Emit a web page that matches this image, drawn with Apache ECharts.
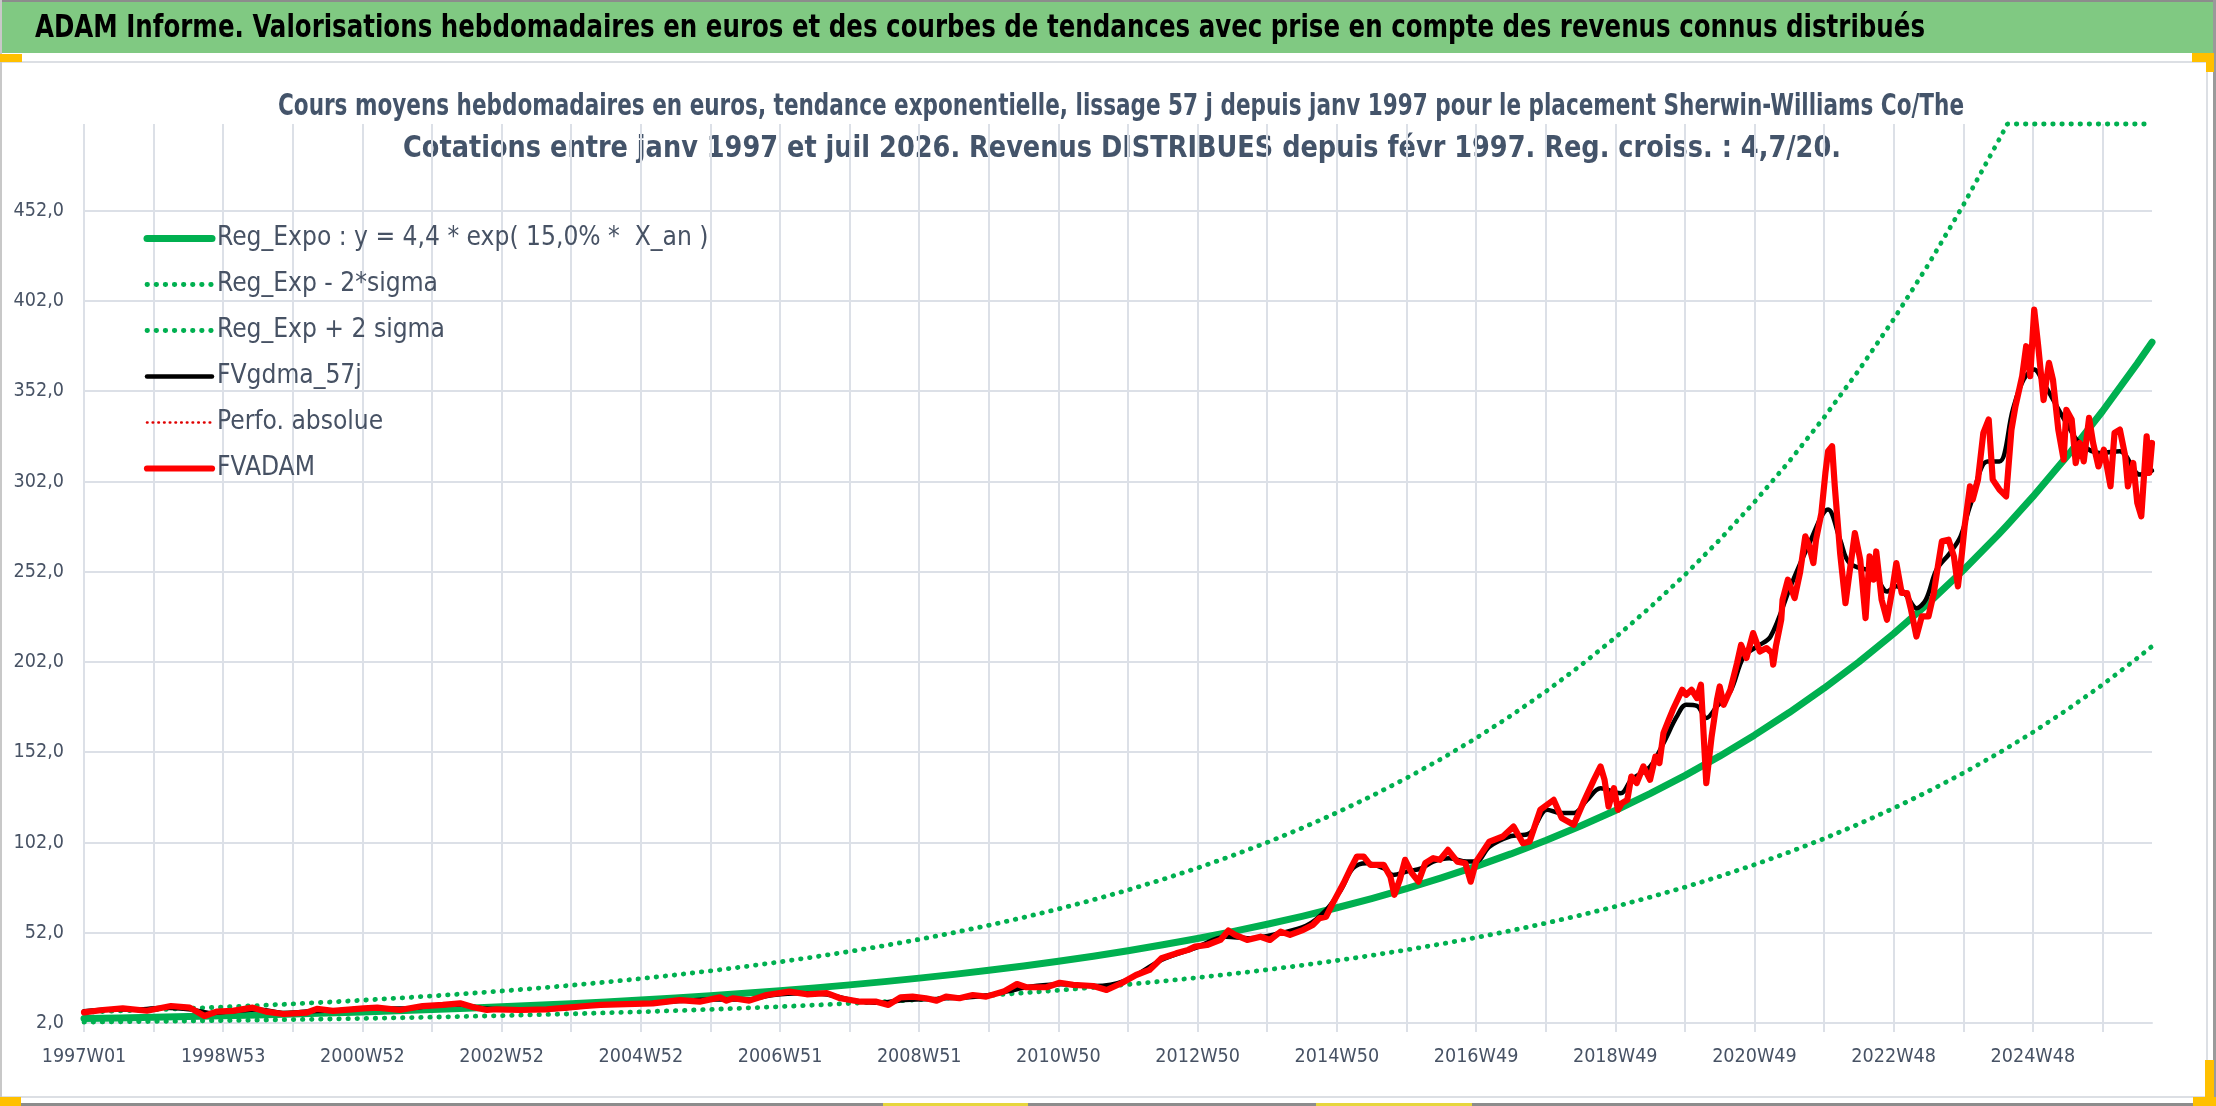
<!DOCTYPE html>
<html>
<head>
<meta charset="utf-8">
<script src="https://cdn.jsdelivr.net/npm/echarts@6/dist/echarts.min.js"></script>
<style>
html,body{margin:0;padding:0;background:#ffffff;}
#chart{width:2216px;height:1106px;}
</style>
</head>
<body>
<div id="chart"></div>
<script>
// ---------------- DATA ----------------
const mainTitle = 'ADAM Informe. Valorisations hebdomadaires en euros et des courbes de tendances avec prise en compte des revenus connus distribués';
const subTitle1 = 'Cours moyens hebdomadaires en euros, tendance exponentielle, lissage 57 j depuis janv 1997 pour le placement Sherwin-Williams Co/The';
const subTitle2 = 'Cotations entre janv 1997 et juil 2026. Revenus DISTRIBUES depuis févr 1997. Reg. croiss. : 4,7/20.';

const seriesNames = ['Reg_Expo : y = 4,4 * exp( 15,0% *  X_an )', 'Reg_Exp - 2*sigma', 'Reg_Exp + 2 sigma', 'FVgdma_57j', 'Perfo. absolue', 'FVADAM'];

// x tick labels (one every 104 weeks, week index 0 = 1997W01)
const tickLabels = ['1997W01','1998W53','2000W52','2002W52','2004W52','2006W51','2008W51','2010W50','2012W50','2014W50','2016W49','2018W49','2020W49','2022W48','2024W48'];
const lastWeek = 1545;

// trend curves (week index -> value)
const trendWeeks = [0,26,52,78,104,130,156,182,208,234,260,286,312,338,364,390,416,442,468,494,520,546,572,598,624,650,676,702,728,754,780,806,832,858,884,910,936,962,988,1014,1040,1066,1092,1118,1144,1170,1196,1222,1248,1274,1300,1326,1352,1378,1404,1430,1437,1456,1482,1508,1534,1545];
const regExpo = [4.47,4.81,5.19,5.59,6.02,6.49,6.99,7.54,8.12,8.75,9.43,10.16,10.95,11.8,12.72,13.7,14.77,15.91,17.15,18.48,19.91,21.46,23.12,24.92,26.85,28.94,31.18,33.6,36.21,39.02,42.05,45.31,48.83,52.61,56.7,61.1,65.84,70.95,76.46,82.39,88.78,95.67,103.1,111.1,119.72,129.01,139.02,149.81,161.44,173.97,187.47,202.02,217.7,234.59,252.8,272.41,277.95,293.55,316.34,340.89,367.34,379.14];
const regLow = [2.48,2.67,2.88,3.1,3.35,3.61,3.89,4.19,4.51,4.86,5.24,5.65,6.08,6.56,7.06,7.61,8.2,8.84,9.53,10.27,11.06,11.92,12.85,13.84,14.92,16.08,17.32,18.67,20.12,21.68,23.36,25.17,27.13,29.23,31.5,33.94,36.58,39.42,42.48,45.77,49.32,53.15,57.28,61.72,66.51,71.67,77.23,83.23,89.69,96.65,104.15,112.23,120.94,130.33,140.44,151.34,154.42,163.09,175.74,189.38,204.08,210.63];
const regHigh = [8.04,8.66,9.33,10.06,10.84,11.68,12.59,13.56,14.62,15.75,16.97,18.29,19.71,21.24,22.89,24.67,26.58,28.64,30.86,33.26,35.84,38.62,41.62,44.85,48.33,52.08,56.12,60.48,65.17,70.23,75.68,81.56,87.89,94.71,102.05,109.98,118.51,127.71,137.62,148.3,159.81,172.21,185.57,199.98,215.5,232.22,250.24,269.66,290.59,313.14,337.44,363.63,391.85,422.26,455.03,490.34,500,500,500,500,500,500];

// FVADAM weekly valuation (read points)
const fvadamWeeks = [0,14,29,47,65,79,90,99,111,126,136,149,166,174,186,209,219,236,253,268,281,291,301,308,326,346,361,375,386,405,425,445,460,475,480,485,497,510,527,540,555,565,580,592,601,610,619,629,637,644,654,664,674,687,697,704,719,729,739,754,764,775,786,796,805,816,825,830,839,849,855,860,869,879,886,894,901,911,918,923,928,933,941,947,951,956,961,971,976,979,983,987,992,997,1002,1008,1013,1019,1026,1032,1036,1040,1050,1060,1068,1075,1080,1088,1098,1104,1113,1120,1128,1133,1136,1139,1143,1146,1149,1153,1156,1160,1165,1170,1174,1177,1180,1184,1187,1194,1197,1201,1205,1208,1212,1216,1220,1222,1225,1230,1235,1238,1242,1247,1252,1257,1261,1262,1264,1268,1269,1273,1278,1282,1286,1289,1292,1294,1298,1301,1303,1306,1308,1312,1316,1319,1323,1327,1331,1334,1337,1339,1343,1347,1351,1354,1358,1362,1365,1369,1373,1378,1382,1385,1388,1393,1397,1400,1403,1405,1409,1411,1415,1419,1423,1426,1431,1436,1440,1443,1448,1451,1454,1457,1460,1464,1468,1471,1475,1479,1481,1485,1488,1491,1494,1498,1501,1505,1509,1514,1517,1521,1525,1527,1531,1534,1537,1541,1543,1545];
const fvadamValues = [7.9,9.2,10.1,8.8,11.4,10.5,5.9,8.3,8.7,10.5,8.3,7.0,7.7,9.8,8.7,10.1,10.5,9.2,11.4,12.0,12.9,10.7,9.2,9.6,9.2,9.6,10.5,11.4,12.0,12.5,12.9,14.7,13.8,16.2,14.4,15.7,14.4,17.5,19.4,17.9,18.5,15.7,13.8,13.8,12.0,16.2,16.6,15.7,14.4,16.6,15.7,17.5,16.6,19.4,23.6,21.8,21.8,24.3,23.1,22.5,20.3,24.0,28.6,31.4,37.9,40.6,42.5,44.3,45.2,48.0,53.2,50.8,48.0,49.8,48.0,52.6,50.8,53.6,56.3,60.0,60.9,68.4,79.4,88.6,94.2,94.2,89.6,89.6,83.1,73.0,81.3,92.4,85.0,80.3,90.5,93.3,92.4,97.9,91.4,90.5,80.3,91.4,102.5,105.3,110.8,101.6,102.5,120.1,125.6,115.5,111.8,123.8,136.7,144.1,136.7,121.9,132.1,120.1,123.8,125.6,138.5,134.9,144.1,136.7,149.6,146.0,162.6,170.0,175.5,186.6,183.8,186.6,182.0,189.4,134.9,160.7,181.0,188.4,178.3,186.6,201.4,211.5,204.2,218.0,207.8,209.7,206.9,200.5,210.6,225.4,236.5,247.6,237.4,251.3,271.6,266.0,256.8,269.7,284.5,306.7,318.7,321.5,299.3,262.3,234.6,251.3,273.4,258.7,226.3,260.5,247.6,263.2,236.5,225.4,242.0,256.8,240.2,240.2,230.9,216.1,227.2,227.2,240.2,254.9,268.8,269.7,260.5,243.9,262.3,277.1,299.3,291.9,303.0,328.9,336.3,303.0,297.5,293.7,330.7,343.6,360.3,376.9,360.3,397.2,376.9,347.1,367.7,358.4,330.7,314.1,341.7,336.3,312.2,323.3,313.1,337.2,323.3,310.3,319.6,299.3,328.9,330.7,316.0,299.3,312.2,290.1,282.7,327.0,306.7,323.3];

// FVgdma_57j smoothed valuation (read points)
const smaWeeks = [0,20,40,60,80,95,110,130,150,170,190,210,240,260,280,300,330,360,385,420,445,470,495,515,535,555,575,595,610,640,670,690,705,730,755,778,805,830,853,871,893,913,928,939,948,958,971,978,989,999,1008,1020,1033,1040,1050,1065,1080,1093,1103,1113,1123,1133,1148,1156,1170,1180,1190,1197,1205,1212,1220,1230,1240,1250,1260,1275,1288,1303,1312,1319,1337,1347,1354,1362,1369,1376,1384,1394,1402,1409,1422,1431,1441,1449,1457,1464,1471,1481,1491,1506,1521,1536,1545];
const smaValues = [8.5,9.5,9.5,10.5,9.5,7.5,8.5,9.5,7.5,8.5,9.0,10.0,10.0,11.5,12.2,10.0,9.4,10.2,12.0,12.8,14.2,15.0,15.0,17.5,18.5,17.8,14.5,13.2,14.5,15.5,16.8,19.5,22.0,23.5,22.5,25.5,36.9,43.5,49.8,49.0,51.7,55.8,64.6,75.7,87.7,90.5,87.7,84.0,86.0,87.7,91.4,93.3,91.4,91.4,99.7,105.3,107.1,120.1,118.3,118.3,125.6,132.0,129.3,136.7,144.0,157.0,171.8,178.3,177.7,170.9,177.4,185.7,205.0,210.6,216.0,244.0,266.0,286.4,269.7,256.8,251.3,241.0,244.0,238.3,231.8,236.5,253.0,262.3,271.6,288.2,313.1,313.1,341.7,358.4,364.0,356.6,347.4,334.4,323.3,317.8,318.7,305.8,308.0];

// ---------------- FONTS ----------------
const mctx = document.createElement('canvas').getContext('2d');
function measure(text, font){ mctx.font = font; return mctx.measureText(text).width; }
function hasFont(name){
  const s = 'abcdefghijklmnopqrstuvwxyzWM0123456789';
  return measure(s, '40px "' + name + '", monospace') !== measure(s, '40px monospace') ||
         measure(s, '40px "' + name + '", serif') !== measure(s, '40px serif');
}
const FONT = ['Liberation Sans Narrow','DejaVu Sans Condensed','Liberation Sans'].find(hasFont) || 'sans-serif';
function fitSize(text, target, weight){ return 100 * target / measure(text, (weight||'normal') + ' 100px "' + FONT + '"'); }
function fitScale(text, size, target, weight){ return target / measure(text, (weight||'normal') + ' ' + size + 'px "' + FONT + '"'); }

// legend: compromise between width fit and cap-height fit (cap ~20px)
const legendSize = (fitSize(seriesNames[0], 475) + 27) / 2;
const axisSize = (fitSize('2010W50', 83) + 20) / 2;

// ---------------- CHART ----------------
const GRID = '#DCE0E7';
const TXT = '#475264';
const pairs = (xs, ys) => xs.map((x, i) => [x, ys[i]]);
const dotted = [0.5, 8.6];

const chart = echarts.init(document.getElementById('chart'), null, {renderer: 'canvas'});
const titleY = 29, sub1Y = 107, sub2Y = 149;

const option = {
  animation: false,
  backgroundColor: '#ffffff',
  grid: {left: 84, right: 64, top: 124, bottom: 83, containLabel: false},
  graphic: [
    {type: 'rect', shape: {x: 0, y: 0, width: 2216, height: 2}, style: {fill: '#8C8C8C'}, silent: true},
    {type: 'rect', shape: {x: 0, y: 2, width: 2216, height: 51}, style: {fill: '#80C982'}, silent: true},
    {type: 'rect', shape: {x: 0, y: 61, width: 2208, height: 2}, style: {fill: '#DCDFE4'}, silent: true},
    {type: 'rect', shape: {x: 2206, y: 61, width: 2, height: 1036}, style: {fill: '#DCDFE4'}, silent: true},
    {type: 'rect', shape: {x: 0, y: 1096, width: 2208, height: 2}, style: {fill: '#DCDFE4'}, silent: true},
    {type: 'rect', shape: {x: 0, y: 1103, width: 2216, height: 3}, style: {fill: '#8C8C8C'}, silent: true},
    {type: 'rect', shape: {x: 2213, y: 0, width: 3, height: 1106}, style: {fill: '#9A9A9A'}, silent: true},
    {type: 'rect', shape: {x: 0, y: 0, width: 2, height: 1106}, style: {fill: '#C8C8C8'}, silent: true},
    {type: 'rect', shape: {x: 0, y: 54, width: 22, height: 8}, style: {fill: '#FFC000'}, silent: true},
    {type: 'rect', shape: {x: 2192, y: 53, width: 21, height: 9}, style: {fill: '#FFC000'}, silent: true},
    {type: 'rect', shape: {x: 2206, y: 53, width: 8, height: 19}, style: {fill: '#FFC000'}, silent: true},
    {type: 'rect', shape: {x: 0, y: 1097, width: 21, height: 9}, style: {fill: '#FFC000'}, silent: true},
    {type: 'rect', shape: {x: 2193, y: 1097, width: 23, height: 9}, style: {fill: '#FFC000'}, silent: true},
    {type: 'rect', shape: {x: 2205, y: 1060, width: 9, height: 46}, style: {fill: '#FFC000'}, silent: true},
    {type: 'rect', shape: {x: 883, y: 1103, width: 145, height: 3}, style: {fill: '#E6D63C'}, silent: true},
    {type: 'rect', shape: {x: 1316, y: 1103, width: 156, height: 3}, style: {fill: '#E6D63C'}, silent: true},
    {type: 'text', x: 35, y: titleY, scaleX: fitScale(mainTitle, 32, 1890, 'bold'),
      style: {text: mainTitle, fontSize: 32, fontWeight: 'bold', fontFamily: FONT, fill: '#000000',
              textAlign: 'left', textVerticalAlign: 'middle', align: 'left', verticalAlign: 'middle'}, silent: true},
    {type: 'text', x: 1121, y: sub1Y, scaleX: fitScale(subTitle1, 30, 1686, 'bold'),
      style: {text: subTitle1, fontSize: 30, fontWeight: 'bold', fontFamily: FONT, fill: '#44546A',
              textAlign: 'center', textVerticalAlign: 'middle', align: 'center', verticalAlign: 'middle'}, silent: true},
    {type: 'text', x: 1122, y: sub2Y, scaleX: fitScale(subTitle2, 30, 1438, 'bold'),
      style: {text: subTitle2, fontSize: 30, fontWeight: 'bold', fontFamily: FONT, fill: '#44546A',
              textAlign: 'center', textVerticalAlign: 'middle', align: 'center', verticalAlign: 'middle'}, silent: true}
  ],
  legend: {
    orient: 'vertical', left: 143.5, top: 223.5, padding: 0,
    itemWidth: 65, itemHeight: 14, itemGap: 16,
    data: seriesNames,
    textStyle: {fontFamily: FONT, fontSize: legendSize, color: TXT, lineHeight: 30},
    lineStyle: {width: 'inherit', cap: 'round'},
    itemStyle: {opacity: 0},
    selectedMode: false
  },
  xAxis: {
    type: 'value', min: 0, max: lastWeek, interval: 52,
    axisLine: {show: true, lineStyle: {color: GRID, width: 2}},
    axisTick: {show: true, length: 9, lineStyle: {color: GRID, width: 2}},
    axisLabel: {
      margin: 24, color: TXT, fontFamily: FONT, fontSize: axisSize,
      showMaxLabel: false,
      formatter: v => (v % 104 === 0 && tickLabels[v / 104]) ? tickLabels[v / 104] : ''
    },
    splitLine: {show: true, showMaxLine: false, lineStyle: {color: GRID, width: 2}}
  },
  yAxis: {
    type: 'value', min: 2, max: 500, interval: 50,
    axisLine: {show: false}, axisTick: {show: false},
    axisLabel: {
      margin: 20, color: TXT, fontFamily: FONT, fontSize: axisSize,
      showMaxLabel: false,
      formatter: v => (v >= 500 ? '' : v.toFixed(1).replace('.', ','))
    },
    splitLine: {show: true, showMaxLine: false, lineStyle: {color: GRID, width: 2}}
  },
  series: [
    {name: seriesNames[0], type: 'line', data: pairs(trendWeeks, regExpo), symbol: 'none', smooth: false,
      color: '#00B050', lineStyle: {color: '#00B050', width: 7, cap: 'round', join: 'round'}, z: 2},
    {name: seriesNames[1], type: 'line', data: pairs(trendWeeks, regLow), symbol: 'none',
      color: '#00B050', lineStyle: {color: '#00B050', width: 4.8, type: dotted, cap: 'round'}, z: 2},
    {name: seriesNames[2], type: 'line', data: pairs(trendWeeks, regHigh), symbol: 'none', clip: false,
      color: '#00B050', lineStyle: {color: '#00B050', width: 4.8, type: dotted, cap: 'round'}, z: 2},
    {name: seriesNames[3], type: 'line', data: pairs(smaWeeks, smaValues), symbol: 'none', smooth: 0.35,
      color: '#000000', lineStyle: {color: '#000000', width: 4.5, cap: 'round', join: 'round'}, z: 3},
    {name: seriesNames[4], type: 'line', data: [], symbol: 'none',
      color: '#E00000', lineStyle: {color: '#E00000', width: 2.6, type: [0.5, 5.2], cap: 'round'}, z: 3},
    {name: seriesNames[5], type: 'line', data: pairs(fvadamWeeks, fvadamValues), symbol: 'none',
      color: '#FF0000', lineStyle: {color: '#FF0000', width: 6.2, cap: 'round', join: 'round'}, z: 4}
  ]
};
chart.setOption(option);
</script>
</body>
</html>
